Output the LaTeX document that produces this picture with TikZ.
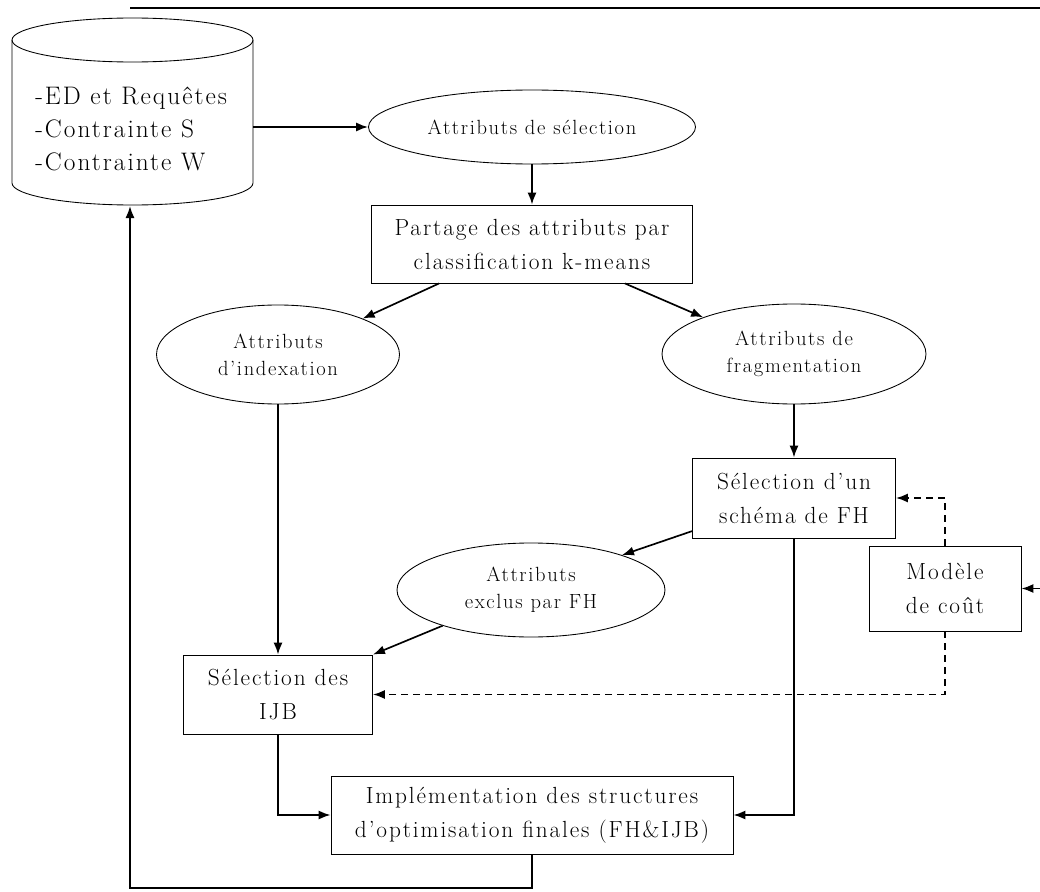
\documentclass[tikz,border=0pt]{standalone}
\usepackage{fontspec}
\usetikzlibrary{arrows.meta,calc,shapes.geometric}
\newfontfamily\spacedrm{Latin Modern Roman}[LetterSpace=8,Ligatures=TeX]
\newcommand\cylfont{\spacedrm\fontsize{19}{24.75}\selectfont}
\newcommand\boxfont{\spacedrm\fontsize{17.5}{25.5}\selectfont}
\newcommand\ellfont{\spacedrm\fontsize{15.4}{20.5}\selectfont}
\begin{document}
\begin{tikzpicture}[x=0.75pt,y=-0.75pt,
  conn/.style={line width=1.25pt,-{Latex[length=9pt,width=6.8pt]}},
  plainconn/.style={line width=1.25pt},
  dashconn/.style={line width=1.25pt,dash pattern=on 5pt off 4pt,-{Latex[length=9pt,width=6.8pt]}},
  shapeline/.style={line width=0.65pt},
  boxnode/.style={draw,line width=0.65pt,rectangle,inner sep=0pt,align=center,font=\boxfont},
  ellnode/.style={draw,ellipse,line width=0.65pt,inner sep=0pt,align=center,font=\ellfont}]
\useasboundingbox (0,0) rectangle (1040,892);
% cylinder
\draw[shapeline] (12,40) -- (12,183) arc[start angle=180,end angle=0,x radius=120.5,y radius=22] -- (253,40);
\draw[shapeline] (132.5,40) ellipse[x radius=120.5,y radius=22];
\node[anchor=west,align=left,inner sep=0pt,font=\cylfont] (dbtext) at (35,128.5) {-ED et Requêtes\\-Contrainte S\\-Contrainte W};
\coordinate (dbE) at (253,127);
\coordinate (dbS) at (130,206);
\coordinate (fb) at (130,888);
\coordinate (t1) at (130,8);
\coordinate (t2) at (1040,8);
\coordinate (rin) at (1040,588.5);
% nodes
\node[ellnode,minimum width=245.25pt,minimum height=55.5pt] (sel) at (532,127) {Attributs de sélection};
\node[boxnode,minimum width=240.75pt,minimum height=58.5pt] (part) at (532,244) {Partage des attributs par\\classification k-means};
\node[ellnode,minimum width=182.25pt,minimum height=74.25pt] (idx) at (278,354.5) {Attributs\\d'indexation};
\node[ellnode,minimum width=198pt,minimum height=75pt] (frag) at (794,354) {Attributs de\\fragmentation};
\node[boxnode,minimum width=152.25pt,minimum height=60pt] (selfh) at (794,498) {Sélection d'un\\schéma de FH};
\node[boxnode,minimum width=114pt,minimum height=63.75pt] (modele) at (945,588.5) {Modèle\\de coût};
\node[ellnode,minimum width=201pt,minimum height=70.5pt] (excl) at (531,590) {Attributs\\exclus par FH};
\node[boxnode,minimum width=141.75pt,minimum height=59.25pt] (ijb) at (278,694.5) {Sélection des\\IJB};
\node[boxnode,minimum width=301.5pt,minimum height=58.5pt] (impl) at (532,815) {Implémentation des structures\\d'optimisation finales (FH\&IJB)};
% connectors
\draw[plainconn] (t1) -- (t2);
\draw[conn] (dbE) -- (sel.west);
\draw[conn] (sel.south) -- (part.north);
\draw[conn] (part.203) -- (idx.23);
\draw[conn] (part.-23) -- (frag.158);
\draw[conn] (idx.south) -- (ijb.north);
\draw[conn] (frag.south) -- (selfh.north);
\draw[conn] (selfh.198.5) -- (excl.21);
\draw[conn] (excl.202) -- (ijb.north east);
\draw[dashconn] (modele.north) |- (selfh.east);
\draw[dashconn] (modele.south) |- (ijb.east);
\draw[conn] (rin) -- (modele.east);
\draw[conn] (ijb.south) |- (impl.west);
\draw[conn] (selfh.south) |- (impl.east);
\draw[conn] (impl.south) |- (fb) -- (dbS);
\end{tikzpicture}
\end{document}
